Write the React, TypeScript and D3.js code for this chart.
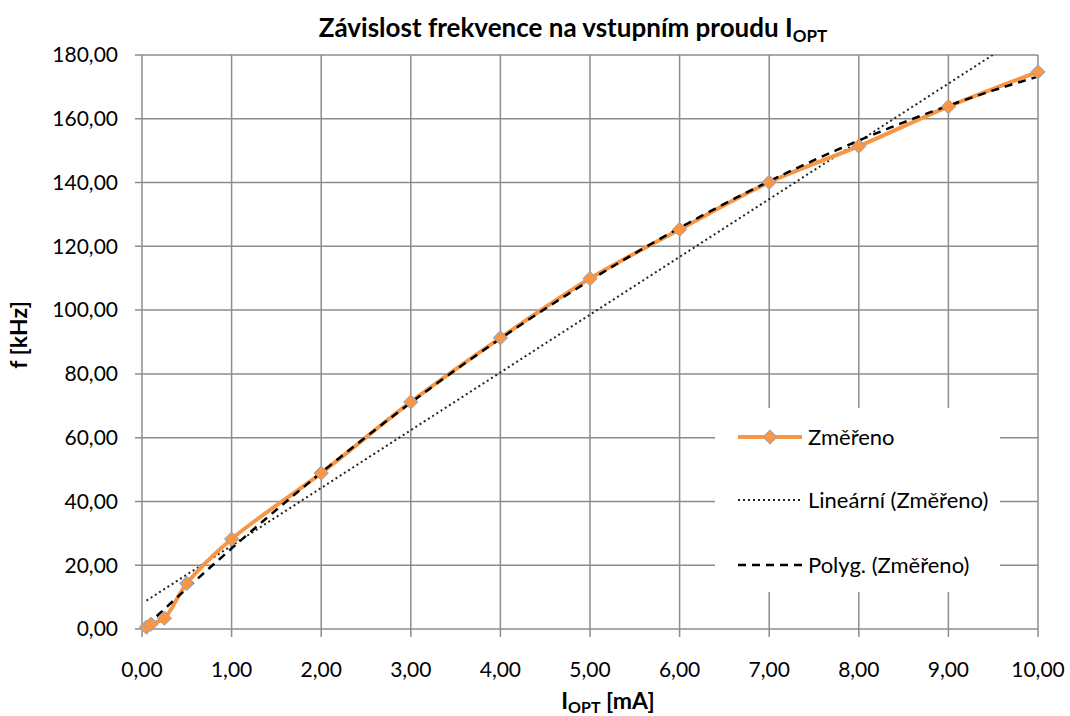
import React, { useEffect, useRef } from 'react';
import * as d3 from 'd3';

// measured values (I_OPT in mA, f in kHz)
const proud = [0.05, 0.1, 0.25, 0.5, 1, 2, 3, 4, 5, 6, 7, 8, 9, 10];
const frekvence = [0.6, 1.5, 3.4, 14.3, 28.2, 48.9, 71.2, 91.3, 109.9, 125.3, 140.1, 151.4, 163.8, 174.7];

const xTicks = [0, 1, 2, 3, 4, 5, 6, 7, 8, 9, 10];
const yTicks = [0, 20, 40, 60, 80, 100, 120, 140, 160, 180];

const legendLabels = ['Změřeno', 'Lineární (Změřeno)', 'Polyg. (Změřeno)'];

const FONT = 'Lato, "Open Sans", sans-serif';
const ORANGE = '#f79646';
const GRID = '#8c8c8c';

// least squares polynomial fit, returns coefficients c0..cn
function polyfit(xs: number[], ys: number[], deg: number): number[] {
  const n = deg + 1;
  const A: number[][] = [];
  for (let i = 0; i < n; i++) {
    A.push([]);
    for (let j = 0; j < n; j++) {
      A[i].push(d3.sum(xs, x => Math.pow(x, i + j)));
    }
    A[i].push(d3.sum(xs, (x, k) => Math.pow(x, i) * ys[k]));
  }
  for (let c = 0; c < n; c++) {
    let p = c;
    for (let r = c + 1; r < n; r++) if (Math.abs(A[r][c]) > Math.abs(A[p][c])) p = r;
    [A[c], A[p]] = [A[p], A[c]];
    for (let r = 0; r < n; r++) {
      if (r === c) continue;
      const f = A[r][c] / A[c][c];
      for (let k = c; k <= n; k++) A[r][k] -= f * A[c][k];
    }
  }
  return A.map((row, i) => row[n] / A[i][i]);
}

const evalPoly = (c: number[], x: number) => c.reduce((s, v, i) => s + v * Math.pow(x, i), 0);

const fmt = (v: number) => v.toFixed(2).replace('.', ',');

const App: React.FC = () => {
  const svgRef = useRef<SVGSVGElement>(null);
  const width = 1070;
  const height = 716;

  useEffect(() => {
    if (!svgRef.current) return;
    d3.select(svgRef.current).selectAll('*').remove();
    const svg = d3.select(svgRef.current);

    const x = d3.scaleLinear().domain([0, 10]).range([142, 1038]);
    const y = d3.scaleLinear().domain([0, 180]).range([629, 55]);

    svg.append('defs').append('clipPath').attr('id', 'plot-clip')
      .append('rect').attr('x', 142).attr('y', 55).attr('width', 896).attr('height', 574);

    // grid
    const grid = svg.append('g');
    grid.selectAll('line.h').data(yTicks).enter().append('line')
      .attr('x1', 135).attr('x2', 1038)
      .attr('y1', d => y(d)).attr('y2', d => y(d))
      .attr('stroke', GRID).attr('stroke-width', 1.5);
    grid.selectAll('line.v').data(xTicks).enter().append('line')
      .attr('x1', d => x(d)).attr('x2', d => x(d))
      .attr('y1', 55).attr('y2', 637)
      .attr('stroke', GRID).attr('stroke-width', 1.5);

    // tick labels
    svg.append('g').selectAll('text').data(yTicks).enter().append('text')
      .attr('x', 118).attr('y', d => y(d)).attr('dy', '0.35em')
      .attr('text-anchor', 'end')
      .style('font-family', FONT).style('font-size', '21px')
      .text(d => fmt(d));
    svg.append('g').selectAll('text').data(xTicks).enter().append('text')
      .attr('x', d => x(d)).attr('y', 677)
      .attr('text-anchor', 'middle')
      .style('font-family', FONT).style('font-size', '21px')
      .text(d => fmt(d));

    const plot = svg.append('g').attr('clip-path', 'url(#plot-clip)');

    // trendlines
    const lin = polyfit(proud, frekvence, 1);
    const poly = polyfit(proud, frekvence, 2);
    const xs = d3.range(proud[0], 10.0001, 0.05);
    const line = d3.line<number>().x(d => x(d));

    plot.append('path')
      .attr('d', line.y(d => y(evalPoly(lin, d)))(xs))
      .attr('fill', 'none').attr('stroke', '#222').attr('stroke-width', 2)
      .attr('stroke-dasharray', '2,3');

    // measured line
    const pts = proud.map((v, i) => [v, frekvence[i]] as [number, number]);
    svg.append('path')
      .attr('d', d3.line<[number, number]>().x(d => x(d[0])).y(d => y(d[1]))
        .curve(d3.curveCatmullRom.alpha(0.5))(pts))
      .attr('fill', 'none').attr('stroke', ORANGE).attr('stroke-width', 4);

    svg.append('path')
      .attr('d', line.y(d => y(evalPoly(poly, d)))(xs))
      .attr('fill', 'none').attr('stroke', '#000').attr('stroke-width', 2.5)
      .attr('stroke-dasharray', '8,6');

    const diamond = d3.symbol().type(d3.symbolDiamond2).size(130);
    svg.append('g').selectAll('path').data(pts).enter().append('path')
      .attr('d', diamond)
      .attr('transform', d => `translate(${x(d[0])},${y(d[1])})`)
      .attr('fill', ORANGE).attr('stroke', '#8aa6cc').attr('stroke-width', 1);

    // legend
    const lg = svg.append('g');
    lg.append('rect').attr('x', 715).attr('y', 408).attr('width', 285).attr('height', 184)
      .attr('fill', '#fff');
    const rows = [437, 500, 565];
    lg.append('line').attr('x1', 738).attr('x2', 802).attr('y1', rows[0]).attr('y2', rows[0])
      .attr('stroke', ORANGE).attr('stroke-width', 4);
    lg.append('path').attr('d', diamond)
      .attr('transform', `translate(770,${rows[0]})`)
      .attr('fill', ORANGE).attr('stroke', '#8aa6cc').attr('stroke-width', 1);
    lg.append('line').attr('x1', 738).attr('x2', 802).attr('y1', rows[1]).attr('y2', rows[1])
      .attr('stroke', '#222').attr('stroke-width', 2).attr('stroke-dasharray', '2,3');
    lg.append('line').attr('x1', 738).attr('x2', 802).attr('y1', rows[2]).attr('y2', rows[2])
      .attr('stroke', '#000').attr('stroke-width', 2.5).attr('stroke-dasharray', '8,6');
    lg.selectAll('text').data(legendLabels).enter().append('text')
      .attr('x', 808).attr('y', (d, i) => rows[i]).attr('dy', '0.35em')
      .style('font-family', FONT).style('font-size', '22px')
      .text(d => d);

    // title
    const title = svg.append('text')
      .attr('x', 573).attr('y', 37).attr('text-anchor', 'middle')
      .style('font-family', FONT).style('font-size', '26px').style('font-weight', 'bold');
    title.append('tspan').text('Závislost frekvence na vstupním proudu I');
    title.append('tspan').attr('dy', 5).style('font-size', '17px').text('OPT');

    // axis titles
    const xt = svg.append('text')
      .attr('x', 608).attr('y', 709).attr('text-anchor', 'middle')
      .style('font-family', FONT).style('font-size', '23px').style('font-weight', 'bold');
    xt.append('tspan').text('I');
    xt.append('tspan').attr('dy', 4).style('font-size', '16px').text('OPT');
    xt.append('tspan').attr('dy', -4).text(' [mA]');

    svg.append('text')
      .attr('transform', 'translate(27,335) rotate(-90)')
      .attr('text-anchor', 'middle')
      .style('font-family', FONT).style('font-size', '23px').style('font-weight', 'bold')
      .text('f [kHz]');
  }, []);

  return (
    <svg
      ref={svgRef}
      width={width}
      height={height}
      style={{ position: 'absolute', left: 0, top: 0, background: '#fff' }}
    />
  );
};

export default App;
